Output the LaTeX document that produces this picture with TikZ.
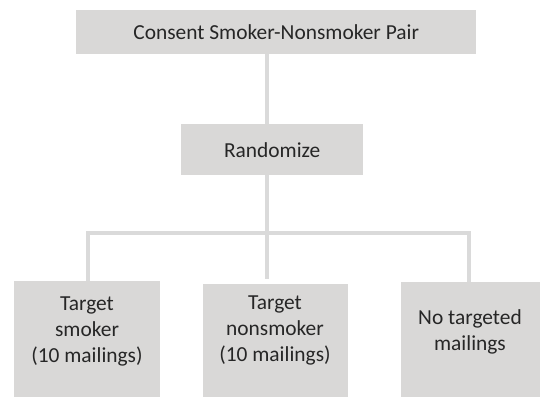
\documentclass[tikz,border=0pt]{standalone}
\usepackage{fontspec}
\setmainfont{Carlito}
\usetikzlibrary{positioning, calc}
\definecolor{boxgray}{RGB}{217,216,215}
\definecolor{linegray}{RGB}{218,218,218}
\definecolor{txtgray}{RGB}{38,38,38}

\begin{document}
\begin{tikzpicture}[
    x=1pt, y=-1pt,
    % Styles
    box/.style={ rectangle, fill=boxgray, draw=none, inner sep=0pt, anchor=north west },
    txt/.style={ align=center, text=txtgray, font=\fontsize{21.4}{26}\selectfont },
    link/.style={ line width=4pt, draw=linegray },
  ]
  \useasboundingbox (0,0) rectangle (540,397);

  % 1) Boxes
  \node[box, minimum width=400pt, minimum height=44pt] (pair) at (76,10) {};
  \node[box, minimum width=182pt, minimum height=51pt] (rand) at (181,124) {};
  \node[box, minimum width=146pt, minimum height=116pt] (smk) at (14,281) {};
  \node[box, minimum width=145pt, minimum height=113pt] (nsmk) at (203,284) {};
  \node[box, minimum width=140pt, minimum height=115pt] (none) at (401,282) {};

  % 2) Texts
  \node[txt] (pairtxt) at (pair.center) {Consent Smoker-Nonsmoker Pair};
  \node[txt] (randtxt) at (rand.center) {Randomize};
  \node[txt] (smktxt) at (87,331) {Target\\smoker\\(10 mailings)};
  \node[txt] (nsmktxt) at (275,330) {Target\\nonsmoker\\(10 mailings)};
  \node[txt] (nonetxt) at (470,332) {No targeted\\mailings};

  % 3) Connectors
  \coordinate (j)  at (267,233);
  \coordinate (hl) at (88,233);
  \coordinate (hr) at (469,233);

  \draw[link] (pair.south -| j) -- (rand.north -| j);
  \draw[link] (rand.south -| j) -- ($(nsmk.north -| j)+(0,-5)$);
  \draw[link] (smk.north -| hl) -- (hl) -- (hr) -- (none.north -| hr);
\end{tikzpicture}
\end{document}
